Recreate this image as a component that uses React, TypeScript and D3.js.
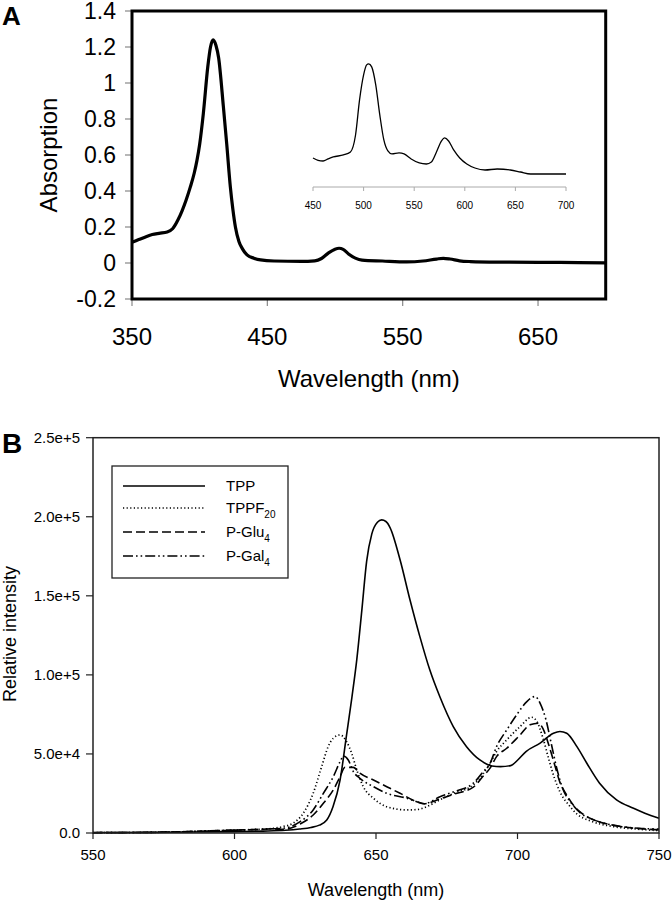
import React from "react";
import * as d3 from "d3";

// ---------- Panel A data ----------
const absMain: [number, number][] = [
  [350, 0.115], [355, 0.13], [360, 0.145], [365, 0.158], [370, 0.165], [376, 0.172],
  [380, 0.19], [384, 0.24], [387, 0.29], [390, 0.35], [393, 0.42], [396, 0.5],
  [398, 0.57], [400, 0.66], [402.7, 0.83], [406, 1.09], [408, 1.2], [410, 1.24],
  [412, 1.21], [414, 1.14], [417.5, 0.87], [420, 0.66], [422.7, 0.42], [424.5, 0.3],
  [426.4, 0.2], [429, 0.12], [431.5, 0.08], [435, 0.045], [440, 0.027], [445, 0.017],
  [455, 0.011], [475, 0.009], [485, 0.012], [490, 0.025], [495, 0.055], [500, 0.077],
  [503, 0.082], [506, 0.076], [510, 0.05], [515, 0.027], [520, 0.016], [535, 0.011],
  [553, 0.006], [565, 0.011], [575, 0.022], [580, 0.026], [585, 0.022], [592, 0.012],
  [600, 0.008], [620, 0.005], [650, 0.004], [680, 0.002], [700, 0.001]
];
const absInset: [number, number][] = [
  [450, 0.0161], [455, 0.0145], [460, 0.014], [465, 0.0155], [470, 0.0168], [480, 0.0182],
  [487, 0.0203], [492, 0.032], [496, 0.0567], [500, 0.0742], [503, 0.0812], [505, 0.0819],
  [508, 0.0798], [512, 0.0672], [516, 0.0462], [520, 0.0287], [524, 0.021], [528, 0.0189],
  [535, 0.0196], [540, 0.0189], [547, 0.0154], [555, 0.0126], [562, 0.0119], [567, 0.0133],
  [572, 0.0203], [577, 0.028], [580, 0.0301], [584, 0.028], [589, 0.0217], [595, 0.0161],
  [602, 0.0119], [610, 0.0091], [620, 0.0077], [632, 0.0084], [645, 0.0077], [655, 0.0063],
  [665, 0.0049], [700, 0.0049]
];
const aYTicks = [-0.2, 0, 0.2, 0.4, 0.6, 0.8, 1, 1.2, 1.4];
const aXTicks = [350, 450, 550, 650];
const insetTicks = [450, 500, 550, 600, 650, 700];

// ---------- Panel B data ----------
const tpp: [number, number][] = [
  [550, 300], [570, 400], [585, 600], [600, 900], [610, 1200], [618, 1700], [623, 2500],
  [627, 3500], [630, 5000], [632.6, 8200], [634.8, 16600], [637.3, 33500], [639.6, 62000],
  [641.5, 86000], [643.2, 109500], [645, 141000], [646.7, 172000], [648.5, 189000],
  [650.5, 196500], [652, 198000], [653.5, 197000], [655, 193000], [658.5, 172800],
  [662, 147500], [665.5, 124200], [669, 103200], [672.6, 86000], [677.3, 67300],
  [682, 54600], [686.7, 46200], [691, 42400], [694, 42000], [697.6, 42600], [700, 46000],
  [703, 51500], [708, 56800], [712.7, 63100], [715, 64200], [717.4, 63100], [721, 54600],
  [724.5, 44100], [729, 31500], [735, 20900], [741, 15600], [745, 12500], [750, 9300]
];
const tppf20: [number, number][] = [
  [550, 200], [565, 300], [580, 700], [590, 1300], [600, 1800], [608, 2300], [613, 2800],
  [617, 4000], [620.8, 6300], [624.3, 12500], [627.8, 25100], [630.8, 42000], [633.1, 54600],
  [634.9, 59900], [637.3, 62000], [639.6, 57800], [641.4, 50400], [643.2, 39900],
  [645.5, 29300], [649.1, 22000], [653.8, 16600], [660.9, 14600], [664.4, 14800],
  [667, 16000], [672.6, 21000], [677.3, 25000], [684.4, 30500], [687.9, 37500],
  [690.3, 44000], [692.6, 51500], [696.2, 58900], [700.9, 67300], [705, 73200],
  [707, 70000], [709, 60000], [711, 47000], [713, 35000], [715, 26000], [718, 18000],
  [721, 12000], [726, 7500], [734, 4000], [742, 2500], [750, 1500]
];
const pGlu4: [number, number][] = [
  [550, 200], [565, 300], [580, 700], [590, 1300], [600, 1800], [608, 2200], [613, 2600],
  [617.3, 2300], [623.2, 5700], [627.8, 11400], [631.4, 18800], [634.9, 27200],
  [637.3, 35600], [639, 41500], [642, 41500], [644.3, 37800], [649.1, 33500],
  [653.8, 29300], [658.5, 25100], [664.4, 19800], [667, 18500], [672.6, 21500],
  [677.3, 24500], [684.4, 29000], [687.9, 36000], [690.3, 41000], [692.6, 48300],
  [696.2, 53600], [700.9, 62000], [704.4, 68400], [707.4, 69400], [709, 66000],
  [711, 56000], [713, 44000], [715, 32000], [717.4, 24000], [720, 17000], [722, 13500],
  [726, 9000], [729, 7000], [737, 4000], [750, 2000]
];
const pGal4: [number, number][] = [
  [550, 200], [565, 300], [580, 700], [590, 1300], [600, 1800], [608, 2200], [613, 2600],
  [617.3, 3000], [623.2, 7200], [627.8, 14600], [631.4, 25100], [634.9, 35600],
  [637.3, 45100], [638.5, 48700], [640.2, 46200], [642, 38800], [644.3, 34600],
  [649.1, 29300], [653.8, 25100], [660.9, 22000], [664.4, 19800], [667, 18500],
  [672.6, 23000], [677.3, 26000], [684.4, 31500], [687.9, 38800], [690.3, 44000],
  [692.6, 54600], [696.2, 65200], [699.7, 74700], [703.3, 83100], [706.2, 86300],
  [708, 82000], [710, 72000], [712, 56000], [714, 40000], [716, 28000], [719, 19000],
  [722, 13000], [726, 9000], [731, 6000], [737, 4000], [743, 3000], [750, 2500]
];
const bYTicks = [0, 50000, 100000, 150000, 200000, 250000];
const bYLabels = ["0.0", "5.0e+4", "1.0e+5", "1.5e+5", "2.0e+5", "2.5e+5"];
const bXTicks = [550, 600, 650, 700, 750];
const seriesNames = ["TPP", "TPPF", "P-Glu", "P-Gal"];
const seriesSubs = ["", "20", "4", "4"];

const FONT = "'Liberation Sans', Arial, Helvetica, sans-serif";

export default function App() {
  // Panel A scales
  const ax = d3.scaleLinear().domain([350, 700]).range([132, 605.7]);
  const ay = d3.scaleLinear().domain([-0.2, 1.4]).range([299, 11]);
  const ix = d3.scaleLinear().domain([450, 700]).range([313, 566]);
  const iy = d3.scaleLinear().domain([0, 0.1]).range([181, 38]);
  const lineA = d3.line<[number, number]>().x(d => ax(d[0])).y(d => ay(d[1])).curve(d3.curveMonotoneX);
  const lineI = d3.line<[number, number]>().x(d => ix(d[0])).y(d => iy(d[1])).curve(d3.curveMonotoneX);

  // Panel B scales
  const bx = d3.scaleLinear().domain([550, 750]).range([93, 659]);
  const by = d3.scaleLinear().domain([0, 250000]).range([833, 437.7]);
  const lineB = d3.line<[number, number]>().x(d => bx(d[0])).y(d => by(d[1])).curve(d3.curveMonotoneX);

  const bSeries = [tpp, tppf20, pGlu4, pGal4];
  const dash = ["none", "1.2,2.4", "9,4", "10,3,1.6,3,1.6,3"];
  const widths = [1.6, 1.7, 1.6, 1.6];

  const legendRowsY = [486, 508, 532, 556];

  return (
    <svg width={672} height={900} style={{ position: "absolute", left: 0, top: 0, background: "#fff" }}
      fontFamily={FONT}>
      <rect x={0} y={0} width={672} height={900} fill="#fff" />
      {/* ---------------- Panel A ---------------- */}
      <text x={2} y={25} fontSize={26} fontWeight="bold">A</text>
      {aYTicks.map(t => (
        <g key={"ay" + t}>
          <line x1={125} x2={132} y1={ay(t)} y2={ay(t)} stroke="#888" strokeWidth={1.2} />
          <text x={116} y={ay(t)} dy="0.36em" textAnchor="end" fontSize={23}>{String(t)}</text>
        </g>
      ))}
      {aXTicks.map(t => (
        <g key={"ax" + t}>
          <line x1={ax(t)} x2={ax(t)} y1={299} y2={306} stroke="#888" strokeWidth={1.2} />
          <text x={ax(t)} y={345} textAnchor="middle" fontSize={24}>{t}</text>
        </g>
      ))}
      <text x={ax(525)} y={387} textAnchor="middle" fontSize={24}>Wavelength (nm)</text>
      <text transform={`translate(57,${155}) rotate(-90)`} textAnchor="middle" fontSize={24}>Absorption</text>
      <path d={lineA(absMain) || ""} fill="none" stroke="#000" strokeWidth={3.2} strokeLinejoin="round" />
      <rect x={132} y={11} width={605.7 - 132} height={299 - 11} fill="none" stroke="#000" strokeWidth={3} />

      {/* inset */}
      <line x1={ix(450)} x2={ix(700)} y1={187} y2={187} stroke="#aaa" strokeWidth={1} />
      {insetTicks.map(t => (
        <g key={"it" + t}>
          <line x1={ix(t)} x2={ix(t)} y1={187} y2={191} stroke="#aaa" strokeWidth={1} />
          <text x={ix(t)} y={209} textAnchor="middle" fontSize={10}>{t}</text>
        </g>
      ))}
      <path d={lineI(absInset) || ""} fill="none" stroke="#000" strokeWidth={1.3} strokeLinejoin="round" />

      {/* ---------------- Panel B ---------------- */}
      <text x={2} y={453} fontSize={28} fontWeight="bold">B</text>
      {bYTicks.map((t, i) => (
        <g key={"by" + t}>
          <line x1={86} x2={93} y1={by(t)} y2={by(t)} stroke="#222" strokeWidth={1.2} />
          <text x={80} y={by(t)} dy="0.36em" textAnchor="end" fontSize={15}>{bYLabels[i]}</text>
        </g>
      ))}
      {bXTicks.map(t => (
        <g key={"bx" + t}>
          <line x1={bx(t)} x2={bx(t)} y1={833} y2={839} stroke="#222" strokeWidth={1.2} />
          <text x={bx(t)} y={860} textAnchor="middle" fontSize={15}>{t}</text>
        </g>
      ))}
      <text x={(93 + 659) / 2} y={896} textAnchor="middle" fontSize={18}>Wavelength (nm)</text>
      <text transform={`translate(16,${634}) rotate(-90)`} textAnchor="middle" fontSize={18}>Relative intensity</text>

      {bSeries.map((s, i) => (
        <path key={"bs" + i} d={lineB(s) || ""} fill="none" stroke="#000" strokeWidth={widths[i]}
          strokeDasharray={dash[i]} strokeLinejoin="round" />
      ))}
      <rect x={93} y={437.7} width={659 - 93} height={833 - 437.7} fill="none" stroke="#222" strokeWidth={1.5} />

      {/* legend */}
      <rect x={112} y={466} width={176} height={112} fill="#fff" stroke="#222" strokeWidth={1.3} />
      {seriesNames.map((n, i) => (
        <g key={"lg" + i}>
          <line x1={123} x2={205} y1={legendRowsY[i]} y2={legendRowsY[i]} stroke="#000"
            strokeWidth={widths[i]} strokeDasharray={dash[i]} />
          <text x={226} y={legendRowsY[i]} dy="0.36em" fontSize={15}>
            {n}
            {seriesSubs[i] && <tspan fontSize={10} dy={5}>{seriesSubs[i]}</tspan>}
          </text>
        </g>
      ))}
    </svg>
  );
}
